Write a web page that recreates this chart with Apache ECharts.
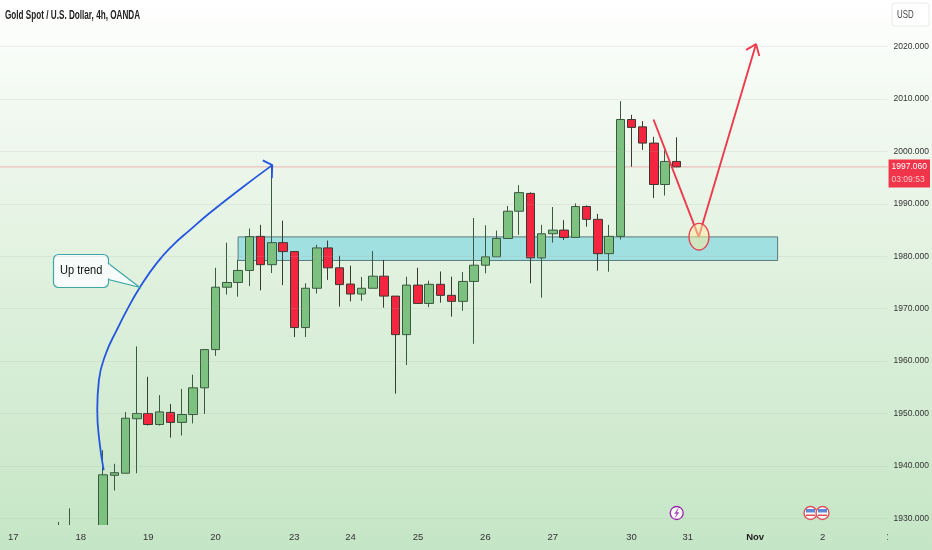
<!DOCTYPE html>
<html><head><meta charset="utf-8">
<style>html,body{margin:0;padding:0;background:#fff}#c{width:932px;height:550px}</style>
<script src="https://cdn.jsdelivr.net/npm/echarts@6/dist/echarts.min.js"></script>
</head><body><div id="c"></div>
<script>
var dayLabels = {0:'17',6:'18',12:'19',18:'20',25:'23',30:'24',36:'25',42:'26',48:'27',55:'30',60:'31',66:'Nov',72:'2'};
var opens  = [null,null,null,null,1926,1925,1925,1926,1925,1938.2,1938.6,1949.0,1950.0,1947.9,1950.2,1948.3,1949.8,1954.9,1962.2,1974.1,1975.0,1977.3,1983.8,1978.4,1982.6,1980.9,1966.4,1973.9,1981.6,1977.8,1974.7,1972.8,1973.9,1976.2,1972.4,1965.05,1974.5,1971.0,1974.65,1972.55,1971.4,1975.2,1978.3,1979.9,1983.4,1988.6,1992.0,1979.7,1984.3,1985.0,1983.6,1989.5,1987.05,1980.5,1983.8,2006.1,2004.7,2001.6,1993.7,1998.1];
var closes = [null,null,null,null,1928,1927,1926,1924,1938.3,1938.7,1949.1,1950.0,1947.9,1950.3,1948.3,1949.8,1954.9,1962.2,1974.1,1975.0,1977.3,1983.75,1978.4,1982.6,1980.9,1966.4,1973.9,1981.6,1977.8,1974.6,1972.8,1973.9,1976.2,1972.4,1965.05,1974.5,1971.0,1974.65,1972.55,1971.4,1975.2,1978.3,1979.9,1983.4,1988.6,1992.15,1979.7,1984.3,1985.0,1983.6,1989.5,1987.05,1980.5,1983.8,2006.1,2004.6,2001.6,1993.7,1998.1,1997.06];
var lows   = [null,null,null,null,1925,1924,1924,1923,1924,1935.3,1938.6,1938.6,1947.7,1947.7,1945.4,1945.8,1948.1,1949.9,1961.0,1972.7,1972.3,1974.3,1973.5,1976.8,1974.5,1964.6,1964.6,1972.9,1975.5,1970.4,1971.4,1971.5,1973.9,1970.2,1953.8,1959.25,1971.0,1970.3,1971.15,1968.5,1969.6,1963.3,1976.75,1979.9,1983.4,1984.1,1974.85,1972.1,1982.6,1983.1,1983.6,1985.65,1977.25,1977.05,1983.2,1997.1,2000.3,1991.1,1991.6,1997.0];
var highs  = [null,null,null,null,1929.3,1931.9,1927.5,1927.5,1943.0,1940.4,1950.3,1962.8,1957.0,1953.5,1951.8,1954.7,1957.4,1962.2,1977.8,1982.6,1979.3,1985.3,1986.0,1997.4,1986.8,1980.9,1974.85,1982.2,1983.0,1980.1,1978.2,1976.05,1981.0,1979.3,1972.4,1976.1,1977.8,1975.35,1977.1,1976.1,1977.0,1987.3,1985.9,1984.9,1989.6,1993.6,1992.2,1986.0,1989.4,1986.9,1990.1,1989.7,1988.1,1986.0,2009.6,2007.0,2005.8,2002.8,2000.3,2002.7];
var priceTicks = [1930,1940,1950,1960,1970,1980,1990,2000,2010,2020];
var lastPrice = 1997.06;
var countdown = '03:09:53';
var zone = [20,68,1983.7,1979.2];
var trendCurve = [[8.04,1939.2],[7.65,1944.9],[7.47,1950.7],[7.62,1956.4],[8.25,1961.5],[9.2,1965.9],[10.2,1970.1],[11.27,1974.1],[12.76,1978.7],[14.23,1982.2],[15.7,1985.0],[17.5,1988.3],[20.17,1992.8],[23.04,1997.4]];
var trendHead = [[22.2,1998.3],[23.04,1997.4],[23.0,1994.9]];
var forecast = [[56.96,2006.1],[60.98,1983.7],[66.08,2020.5]];
var forecastHead = [[65.2,2019.4],[66.08,2020.5],[66.37,2018.2]];

var cats = [];
for (var c = 0; c < 78; c++) cats.push(dayLabels[c] || '');
var candles = opens.map(function(o,i){
  return o == null ? '-' : [o, closes[i], lows[i], highs[i]];
});
var YMIN = 1928.72, YMAX = 2028.91, FONT = '"Liberation Sans",sans-serif';

function lineSeries(data, color, width, smooth){
  return {type:'line', xAxisIndex:2, yAxisIndex:1, data:data, symbol:'none', smooth:smooth||false, z:6,
    silent:true, lineStyle:{color:color,width:width}};
}
var chart = echarts.init(document.getElementById('c'), null, {renderer:'canvas'});
chart.setOption({
  animation:false,
  backgroundColor:{type:'linear',x:0,y:0,x2:0,y2:1,colorStops:[
    {offset:0,color:'#ffffff'},{offset:0.18,color:'#f3faf2'},{offset:0.5,color:'#e0f1de'},{offset:1,color:'#c5e6c6'}]},
  grid:[
    {left:0,top:0,width:888,height:525},
    {left:7.68,top:0,width:876.72,height:525}
  ],
  xAxis:[
    {type:'value',gridIndex:0,min:0,max:1,show:false},
    {type:'category',gridIndex:1,data:cats,boundaryGap:true,z:30,
      axisLine:{show:false},axisTick:{show:false},splitLine:{show:false},
      axisLabel:{interval:0,margin:7,fontFamily:FONT,fontSize:9.5,color:'#333',
        formatter:function(v){return v==='Nov'?'{b|Nov}':v;},
        rich:{b:{fontFamily:FONT,fontSize:9.5,fontWeight:'bold',color:'#222'}}}},
    {type:'value',gridIndex:1,min:-0.5,max:77.5,show:false}
  ],
  yAxis:[
    {type:'value',gridIndex:0,position:'right',min:YMIN,max:YMAX,z:30,
      axisLine:{show:false},axisTick:{show:false,customValues:priceTicks},
      splitLine:{show:true,lineStyle:{color:'rgba(170,170,170,0.18)',width:1}},
      axisLabel:{customValues:priceTicks,margin:6,fontFamily:FONT,fontSize:8.5,color:'#333',
        formatter:function(v){return v.toFixed(3);}}},
    {type:'value',gridIndex:1,min:YMIN,max:YMAX,show:false,splitLine:{show:false}}
  ],
  series:[
    {type:'line',xAxisIndex:0,yAxisIndex:0,data:[[0,lastPrice],[1,lastPrice]],symbol:'none',silent:true,z:1,
      lineStyle:{color:'rgba(242,54,69,0.35)',width:1},
      endLabel:{show:true,formatter:function(){return lastPrice.toFixed(3)+'\n{t|'+countdown+'}';},
        backgroundColor:'#f0344a',color:'#fff',fontFamily:FONT,fontSize:8.5,lineHeight:13,
        padding:[1,3,1,3],offset:[0,6.5],distance:1,
        rich:{t:{color:'#ffc4c8',fontFamily:FONT,fontSize:8.5,lineHeight:13}}}},
    {type:'custom',xAxisIndex:2,yAxisIndex:1,silent:true,z:2,data:[zone],clip:true,
      renderItem:function(p,api){
        var a=api.coord([zone[0],zone[2]]),b=api.coord([zone[1],zone[3]]);
        return {type:'rect',shape:{x:a[0],y:a[1],width:b[0]-a[0],height:b[1]-a[1]},
          style:{fill:'#a0e0e0',stroke:'#5b7a7c',lineWidth:1}};
      }},
    {type:'candlestick',xAxisIndex:1,yAxisIndex:1,data:candles,barWidth:9,z:3,silent:true,
      itemStyle:{color:'#7cc180',color0:'#f4263f',borderColor:'#3a5a3f',borderColor0:'#3a3a30',borderWidth:1}},
    lineSeries(trendCurve,'#2456e0',1.8,0.5),
    lineSeries(trendHead,'#2456e0',1.8),
    lineSeries(forecast,'#ee3a4c',1.9),
    lineSeries(forecastHead,'#ee3a4c',1.9)
  ],
  graphic:[
    {type:'rect',z:4,shape:{x:0,y:525,width:932,height:25},style:{fill:{type:'linear',x:0,y:0,x2:0,y2:1,colorStops:[{offset:0,color:'#c7e7c8'},{offset:1,color:'#c5e6c6'}]}}},
    {type:'text',x:5,y:10,scaleX:0.68,z:20,style:{text:'Gold Spot / U.S. Dollar, 4h, OANDA',fontFamily:FONT,fontSize:12,fontWeight:'bold',fill:'#222'}},
    {type:'rect',z:20,shape:{x:892,y:3,width:37,height:23,r:3},style:{fill:'#fff',stroke:'#e8ece8',lineWidth:1}},
    {type:'text',z:21,x:897,y:10,scaleX:0.75,style:{text:'USD',fontFamily:FONT,fontSize:10.5,fill:'#444'}},
    {type:'text',z:31,x:886,y:531,style:{text:':',fontFamily:FONT,fontSize:11,fill:'#666'}},
    {type:'ellipse',z:10,shape:{cx:699,cy:236.7,rx:10,ry:13.3},style:{fill:'rgba(255,235,160,0.5)',stroke:'#e8414f',lineWidth:1.3}},
    {type:'rect',z:20,shape:{x:53.5,y:254.5,width:55,height:33,r:5},style:{fill:'#f7fcfa',stroke:'#3fa7a8',lineWidth:1.2}},
    {type:'polygon',z:20,shape:{points:[[108.5,263.5],[139.5,287.3],[108.5,279.5]]},style:{fill:'#f7fcfa',stroke:'#3fa7a8',lineWidth:1.2}},
    {type:'rect',z:20,shape:{x:107,y:264.5,width:3,height:14},style:{fill:'#f7fcfa'}},
    {type:'text',z:21,x:60,y:264,scaleX:0.85,style:{text:'Up trend',fontFamily:FONT,fontSize:13,fill:'#111'}},
    {type:'circle',z:20,shape:{cx:676.7,cy:513,r:6.5},style:{fill:'#fff',stroke:'#9c27b0',lineWidth:1.3}},
    {type:'polygon',z:21,shape:{points:[[678.3,508.5],[674.5,513.5],[677,513.5],[675.2,517.5],[679,512.5],[676.5,512.5]]},style:{fill:'#b04cc0',stroke:'#9c27b0',lineWidth:0.4}},
    {type:'circle',z:20,shape:{cx:810.5,cy:513,r:6.5},style:{fill:'#fff',stroke:'#e2505a',lineWidth:1.4}},
    {type:'rect',z:21,shape:{x:806,y:509,width:9,height:3.5},style:{fill:'#5f88d6'}},
    {type:'rect',z:21,shape:{x:806,y:514.5,width:9,height:1.5},style:{fill:'#e2505a'}},
    {type:'circle',z:20,shape:{cx:822.5,cy:513,r:6.5},style:{fill:'#fff',stroke:'#e2505a',lineWidth:1.4}},
    {type:'rect',z:21,shape:{x:818,y:509,width:9,height:3.5},style:{fill:'#5f88d6'}},
    {type:'rect',z:21,shape:{x:818,y:514.5,width:9,height:1.5},style:{fill:'#e2505a'}}
  ]
});
</script></body></html>
